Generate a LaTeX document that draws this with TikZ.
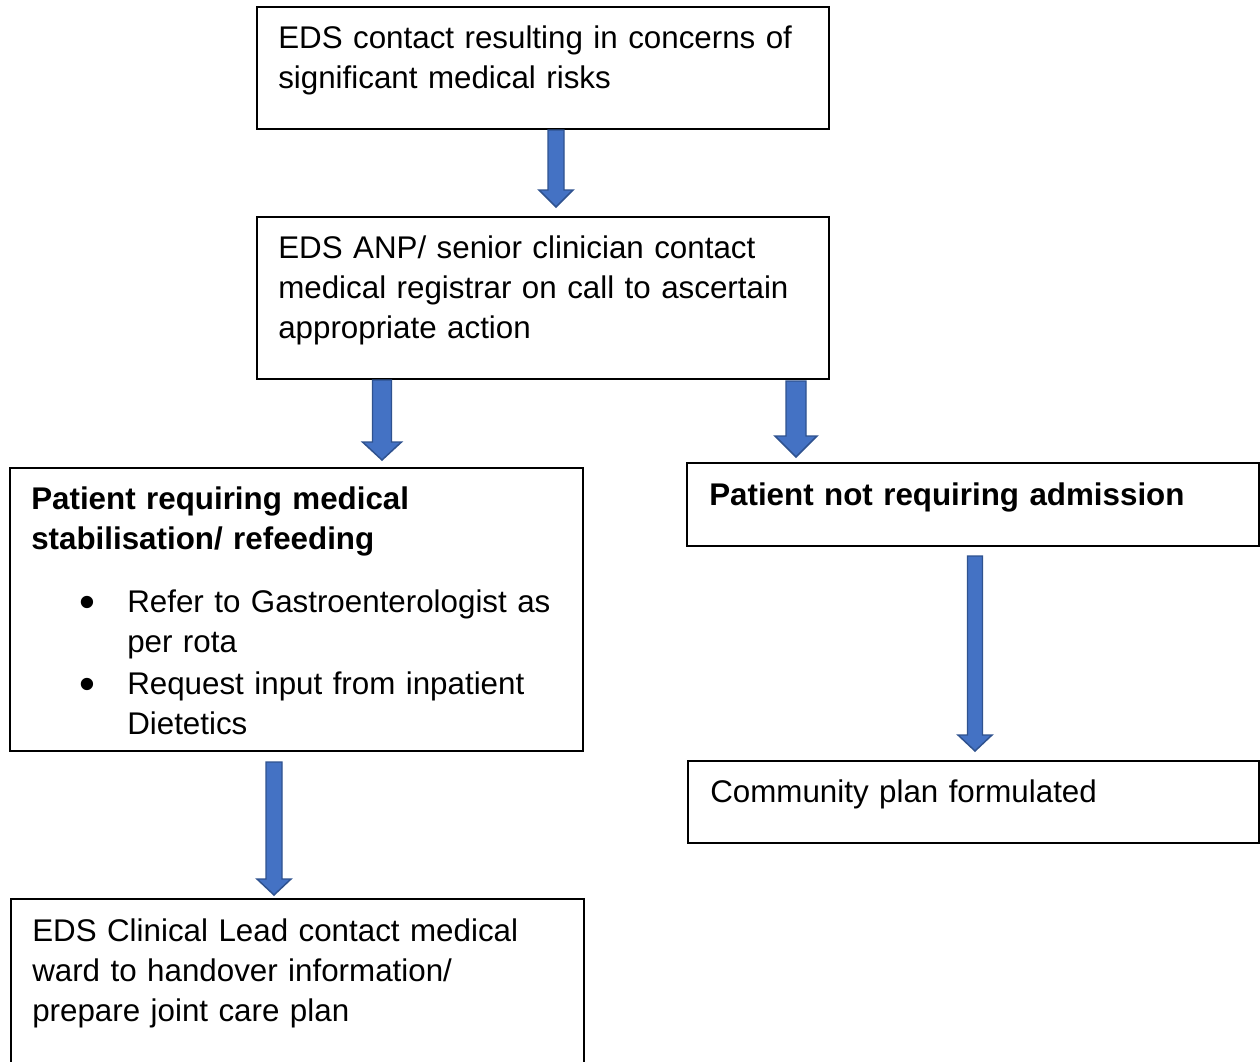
\documentclass[tikz,border=0pt]{standalone}
\usepackage{fontspec}
\setmainfont{Liberation Sans}
\usetikzlibrary{fit,calc}
\definecolor{arrfill}{HTML}{4472C4}
\definecolor{arrline}{HTML}{2F528F}
% block arrow: start coordinate, tip coordinate, shaft half width, head half width, head length
\newcommand\blockarr[5]{%
  \draw[blockarrow] ($(#1)+(-#3,0)$) -- ($(#1)+(#3,0)$) -- ($(#2)+(#3,-#5)$) -- ($(#2)+(#4,-#5)$) -- (#2) -- ($(#2)+(-#4,-#5)$) -- ($(#2)+(-#3,-#5)$) -- cycle;}
\begin{document}
\begin{tikzpicture}[x=0.75pt,y=-0.75pt,
  box/.style={draw=black,line width=1.5pt,inner sep=0pt},
  txt/.style={anchor=base west,inner sep=0pt,align=left,text width=15cm,font=\fontsize{23.5}{30}\selectfont},
  btxt/.style={txt,font=\fontsize{23.5}{30}\selectfont\bfseries},
  bul/.style={anchor=base,inner sep=0pt,font=\fontsize{34}{30}\selectfont},
  blockarrow/.style={fill=arrfill,draw=arrline,line width=1.1pt,line join=miter}]
\useasboundingbox[fill=white] (0,0) rectangle (1260,1061);

% boxes
\node[box,fit={(257,7) (829,129)}] (b1) {};
\node[box,fit={(257,217) (829,379)}] (b2) {};
\node[box,fit={(10,468) (583,751)}] (b3) {};
\node[box,fit={(687,463) (1259,546)}] (b4) {};
\node[box,fit={(688,761) (1259,843)}] (b5) {};
\node[box,fit={(11,899) (584,1075)}] (b6) {};

% texts
\node[txt] (t1) at (278,48) {EDS contact resulting in concerns of\\significant medical risks};
\node[txt] (t2) at (278,258) {EDS ANP/ senior clinician contact\\medical registrar on call to ascertain\\appropriate action};
\node[btxt] (t3) at (31,509) {Patient requiring medical\\stabilisation/ refeeding};
\node[bul] (u1) at (87,617) {•};
\node[txt] (l1) at (127,612) {Refer to Gastroenterologist as\\per rota};
\node[bul] (u2) at (87,699) {•};
\node[txt] (l2) at (127,694) {Request input from inpatient\\Dietetics};
\node[btxt] (t4) at (709,505) {Patient not requiring admission};
\node[txt] (t5) at (710,802) {Community plan formulated};
\node[txt] (t6) at (32,941) {EDS Clinical Lead contact medical\\ward to handover information/\\prepare joint care plan};

% arrow end points
\coordinate (a1s) at (556,130);
\coordinate (a1e) at (556,207);
\coordinate (a2s) at (382,380);
\coordinate (a2e) at (382,460);
\coordinate (a3s) at (796,381);
\coordinate (a3e) at (796,457);
\coordinate (a4s) at (975,556);
\coordinate (a4e) at (975,751);
\coordinate (a5s) at (274,762);
\coordinate (a5e) at (274,895);

\blockarr{a1s}{a1e}{8}{17}{17}
\blockarr{a2s}{a2e}{9.5}{19.5}{18}
\blockarr{a3s}{a3e}{10}{21}{21}
\blockarr{a4s}{a4e}{7.5}{17}{16}
\blockarr{a5s}{a5e}{8}{17}{16}
\end{tikzpicture}
\end{document}
